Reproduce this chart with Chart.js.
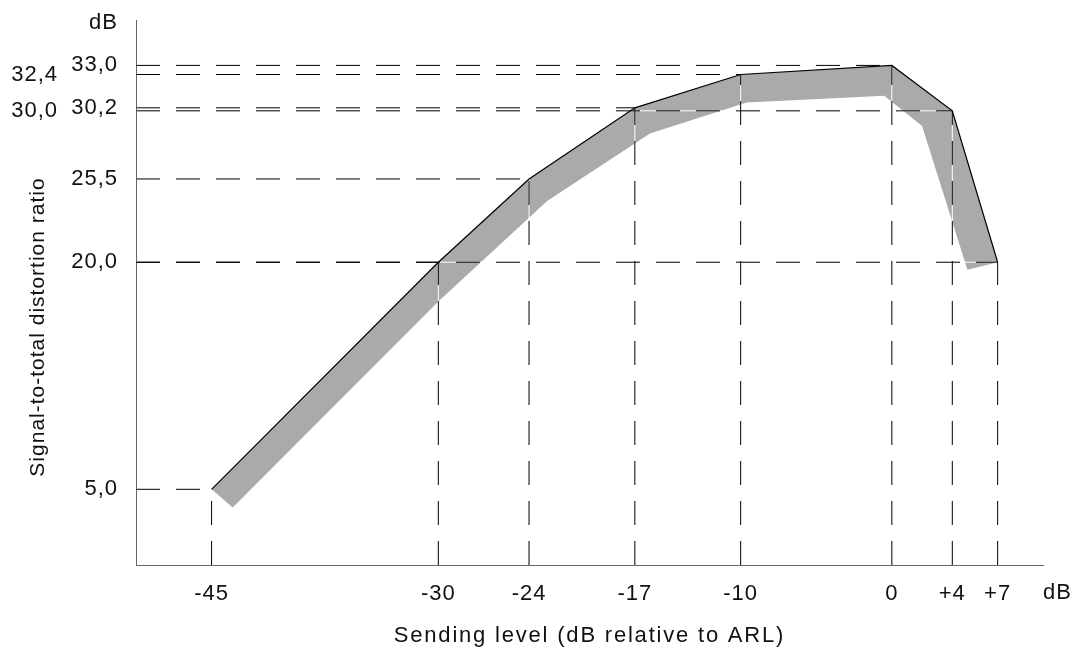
<!DOCTYPE html>
<html>
<head>
<meta charset="utf-8">
<script src="https://cdn.jsdelivr.net/npm/chart.js@4.4.1/dist/chart.umd.min.js"></script>
<style>
html,body{margin:0;padding:0;background:#fff}
#wrap{position:relative;width:1082px;height:653px}
</style>
</head>
<body>
<div id="wrap"><canvas id="chart"></canvas></div>
<script>
// measured points of the curve
const sendLevel=[-45,-30,-24,-17,-10,0,4,7]
const ratio=[5.0,20.0,25.5,30.2,32.4,33.0,30.0,20.0]

// lower edge of the grey band
const bandLowX=[-43.6,-30.0,-22.8,-16.0,-12.6,-9.6,-0.5,2.0,5.0]
const bandLowY=[3.8,17.4,24.05,28.5,29.6,30.55,31.0,29.0,19.5]

const yTicksInner=[5.0,20.0,25.5,30.2,33.0]
const yTicksOuter=[32.4,30.0]

const xMin=-50,xMax=10,yMin=0,yMax=36

const fmtY=v=>v.toFixed(1).replace('.',',')
const fmtX=v=>v>0?'+'+v:String(v)
const pt=(x,y)=>({x,y})

const upper=sendLevel.map((x,i)=>pt(x,ratio[i]))
const lower=bandLowX.map((x,i)=>pt(x,bandLowY[i]))
const band=upper.concat(lower.slice().reverse())

// dashed guides: from the y axis to the point, and from the x axis up to the point
const guides=[]
sendLevel.forEach((x,i)=>{
guides.push([pt(xMin,ratio[i]),pt(x,ratio[i])])
guides.push([pt(x,yMin),pt(x,ratio[i])])
})

const datasets=[{
data:band,
showLine:true,
fill:'shape',
backgroundColor:'#aaaaaa',
borderWidth:0,
pointRadius:0,
order:4
}]

guides.forEach(g=>datasets.push({
data:g,showLine:true,fill:false,
borderColor:'#ffffff',borderWidth:1,
pointRadius:0,order:3
}))

guides.forEach(g=>datasets.push({
data:g,showLine:true,fill:false,
borderColor:'#000000',borderWidth:1,borderDash:[24,16],
pointRadius:0,order:2
}))

datasets.push({
data:upper,showLine:true,fill:false,
borderColor:'#000000',borderWidth:1.2,
pointRadius:0,order:1
})

const FONT='"Liberation Sans", Arial, sans-serif'
Chart.defaults.font.family=FONT
Chart.defaults.color='#111'

const textPlugin={
id:'texts',
beforeDraw(c){
c.ctx.letterSpacing='1px'
},
afterDraw(c){
const ctx=c.ctx
const a=c.chartArea
ctx.save()
ctx.fillStyle='#111'
ctx.textBaseline='middle'
ctx.font='22px '+FONT
ctx.letterSpacing='1px'

ctx.textAlign='right'
ctx.fillText('dB',c.scales.y.right-18,a.top+3)

ctx.textAlign='left'
ctx.fillText('dB',a.right,a.bottom+28)

ctx.textAlign='center'
ctx.letterSpacing='1.8px'
ctx.fillText('Sending level (dB relative to ARL)',(a.left+a.right)/2,a.bottom+71)

ctx.translate(38,327)
ctx.rotate(-Math.PI/2)
ctx.font='21px '+FONT
ctx.letterSpacing='1px'
ctx.fillText('Signal-to-total distortion ratio',0,0)
ctx.restore()
}
}

const tickFont={family:FONT,size:22}
const noPadY=s=>{s.paddingTop=0;s.paddingBottom=0}

new Chart(document.getElementById('chart'),{
type:'scatter',
data:{datasets:datasets},
options:{
responsive:true,
maintainAspectRatio:false,
animation:false,
layout:{padding:{top:20,right:39,left:0,bottom:0}},
plugins:{legend:{display:false},tooltip:{enabled:false}},
elements:{line:{tension:0}},
scales:{
x:{
type:'linear',min:xMin,max:xMax,z:1,
afterBuildTicks:s=>{s.ticks=sendLevel.map(v=>({value:v}))},
afterFit:s=>{s.height=88;s.paddingLeft=0;s.paddingRight=0},
grid:{display:false,drawTicks:false},
border:{display:true,color:'#666',width:1},
ticks:{padding:16,color:'#111',font:tickFont,maxRotation:0,autoSkip:false,callback:v=>fmtX(v)}
},
y:{
type:'linear',position:'left',min:yMin,max:yMax,z:1,
afterBuildTicks:s=>{s.ticks=yTicksInner.map(v=>({value:v}))},
afterFit:s=>{s.width=72;noPadY(s)},
grid:{display:false,drawTicks:false},
border:{display:true,color:'#666',width:1},
ticks:{padding:18,color:'#111',font:tickFont,autoSkip:false,callback:v=>fmtY(v)}
},
y2:{
type:'linear',position:'left',weight:1,display:true,min:yMin,max:yMax,
afterBuildTicks:s=>{s.ticks=yTicksOuter.map(v=>({value:v}))},
afterFit:s=>{s.width=64;noPadY(s)},
grid:{display:false,drawTicks:false},
border:{display:false},
ticks:{padding:6,color:'#111',font:tickFont,autoSkip:false,callback:v=>fmtY(v)}
}
}
},
plugins:[textPlugin]
})
</script>
</body>
</html>
